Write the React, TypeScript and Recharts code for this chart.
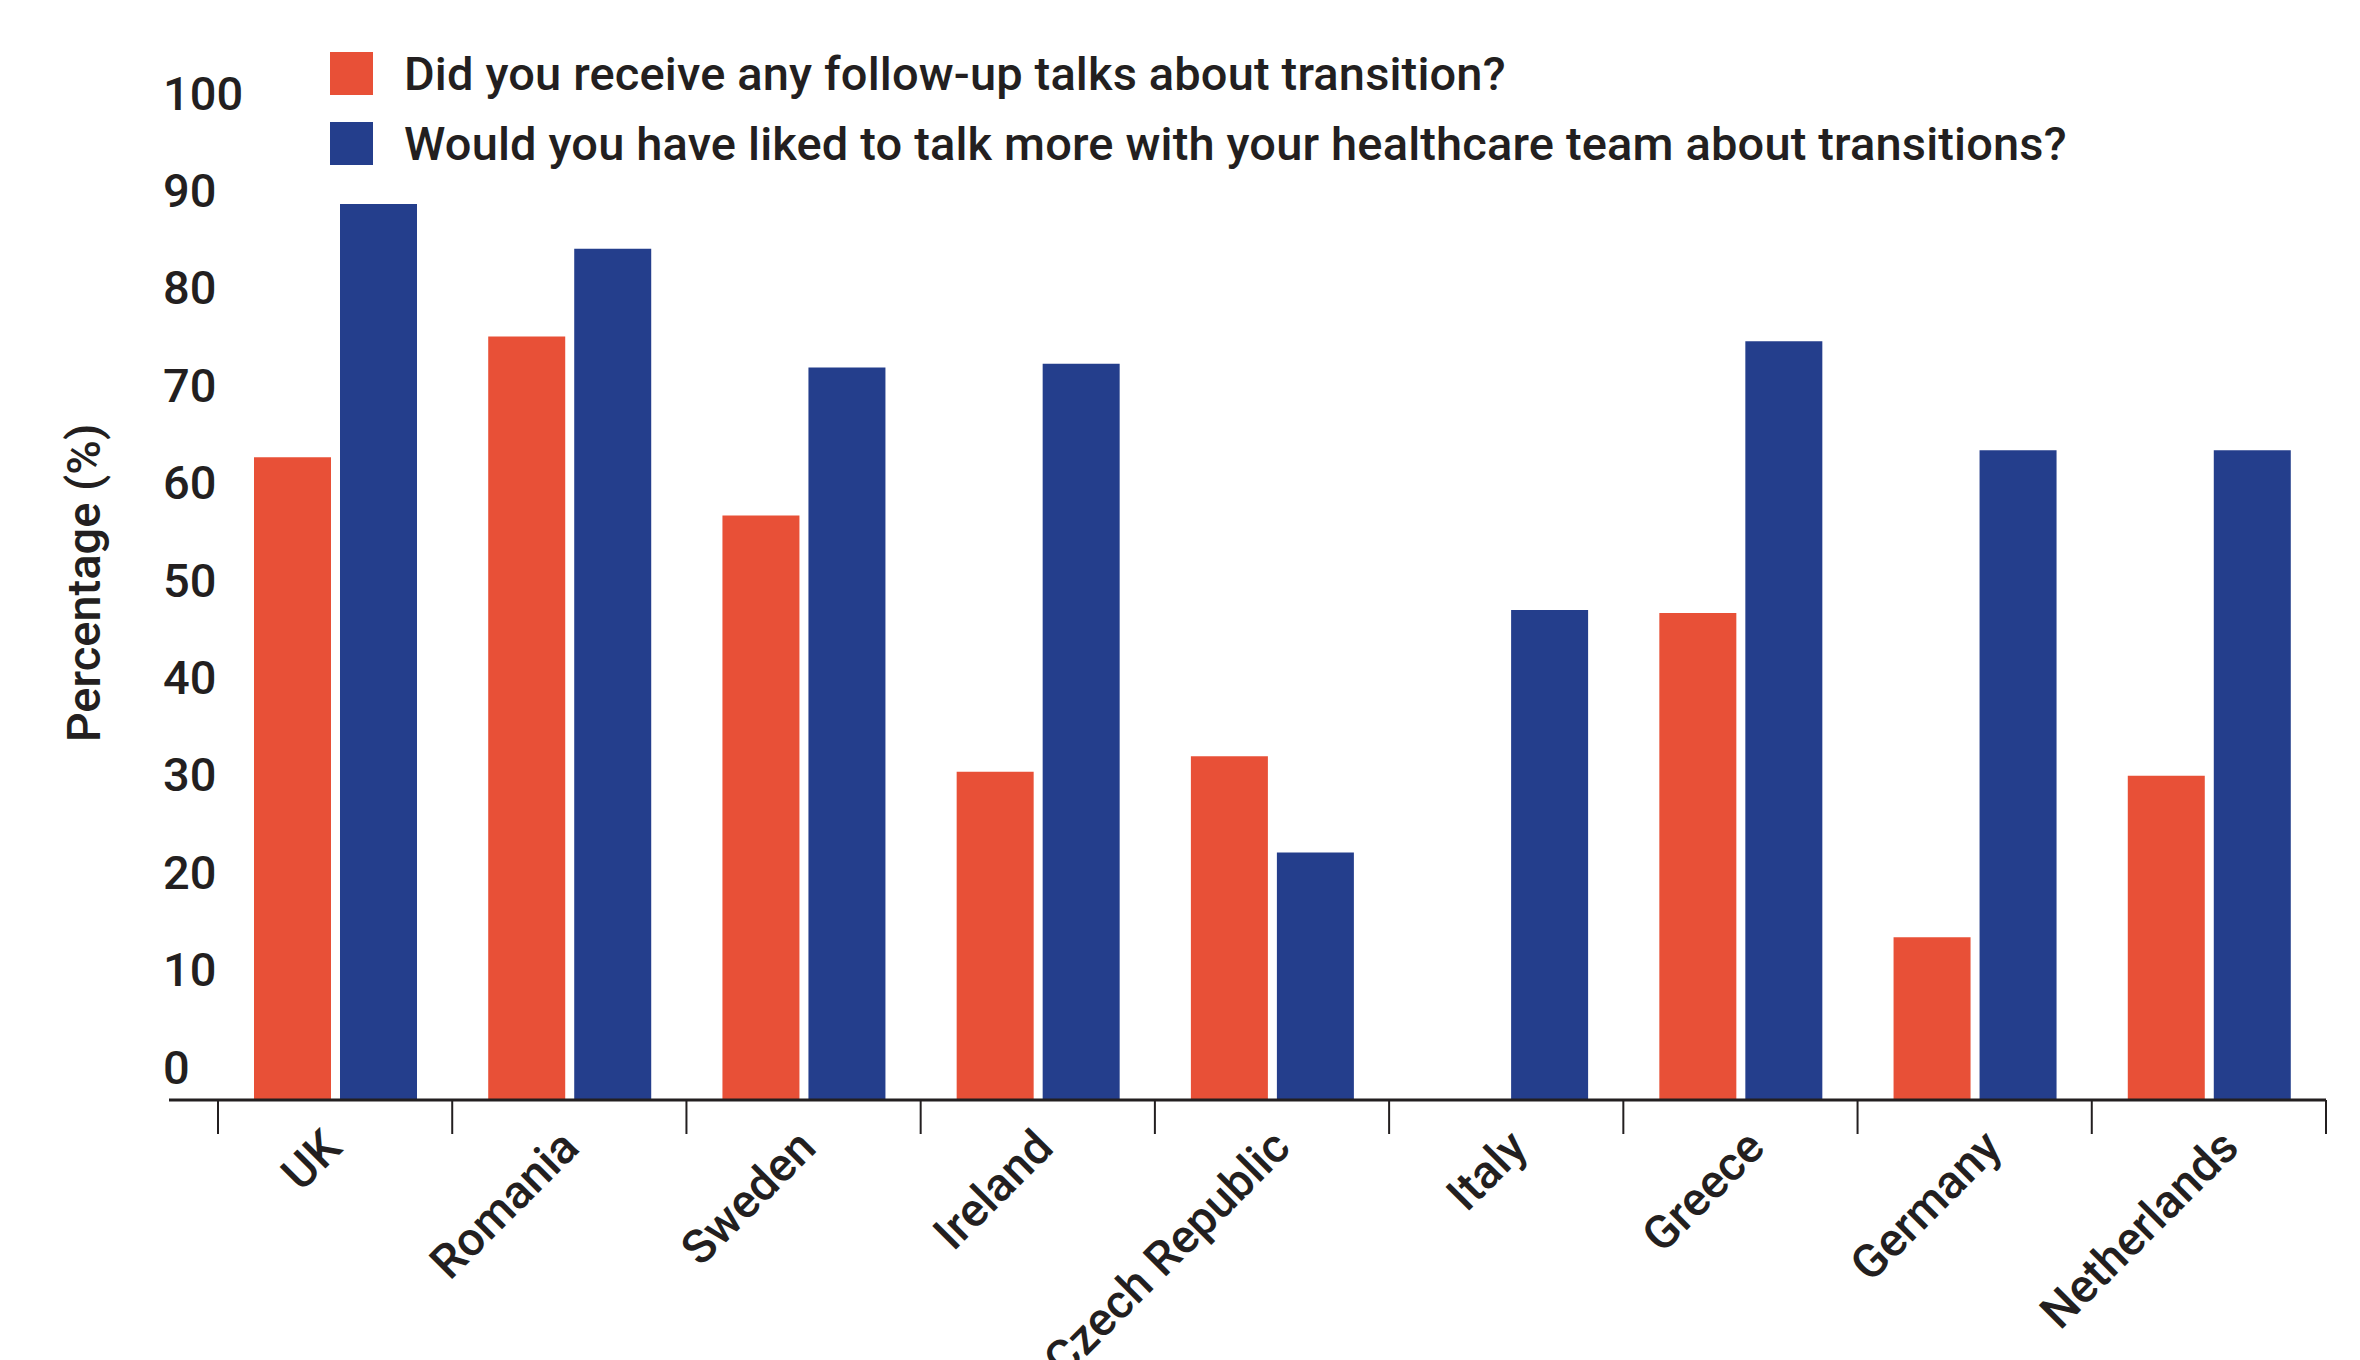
import React from 'react';
import { BarChart, Bar, XAxis, YAxis, Legend, Label } from 'recharts';

// values (percent)
const countries = ['UK', 'Romania', 'Sweden', 'Ireland', 'Czech Republic', 'Italy', 'Greece', 'Germany', 'Netherlands'];
const followUpTalks = [66.0, 78.4, 60.0, 33.7, 35.3, 0, 50.0, 16.7, 33.3];
const wantedMoreTalk = [92.0, 87.4, 75.2, 75.6, 25.4, 50.3, 77.9, 66.7, 66.7];
const yTicks = [0, 10, 20, 30, 40, 50, 60, 70, 80, 90, 100];

const seriesNames = [
    'Did you receive any follow-up talks about transition?',
    'Would you have liked to talk more with your healthcare team about transitions?',
];

const data = countries.map((name, i) => ({
    name,
    followUp: followUpTalks[i],
    wanted: wantedMoreTalk[i],
}));

const W = 2360;
const H = 1360;
const TEXT = '#231f20';
const ORANGE = '#e85037';
const BLUE = '#243e8c';
const FONT = 'Roboto, "Noto Sans", sans-serif';

const Y_AXIS_W = 169;
const MARGIN_RIGHT = 34;
const PAD_LEFT = 49;
const BAND = (W - Y_AXIS_W - MARGIN_RIGHT - PAD_LEFT) / countries.length;

const CountryTick = (props: any) => {
    const { x, y, payload, index } = props;
    const half = BAND / 2;
    const lx = x + 9 + index * 2.9;
    const ly = y + 50;
    return (
        <g>
            <line x1={x - half} y1={y} x2={x - half} y2={y + 34} stroke={TEXT} strokeWidth={2} />
            {index === countries.length - 1 && (
                <line x1={x + half} y1={y} x2={x + half} y2={y + 34} stroke={TEXT} strokeWidth={2} />
            )}
            <text
                x={lx}
                y={ly}
                textAnchor="end"
                transform={`rotate(-45, ${lx}, ${ly})`}
                fill={TEXT}
                fontSize={47}
                fontWeight={500}
                fontFamily={FONT}
            >
                {payload.value}
            </text>
        </g>
    );
};

const PercentTick = (props: any) => {
    const { y, payload } = props;
    return (
        <text x={163} y={y - 33} dominantBaseline="central" textAnchor="start" fill={TEXT} fontSize={47} fontWeight={500} fontFamily={FONT}>
            {payload.value}
        </text>
    );
};

const renderYLabel = (props: any) => {
    const vb = props.viewBox || { x: 0, y: 126, width: Y_AXIS_W, height: 974 };
    const cx = 100;
    const cy = vb.y + vb.height / 2 - 30;
    return (
        <text x={cx} y={cy} textAnchor="middle" transform={`rotate(-90, ${cx}, ${cy})`} fill={TEXT} fontSize={47} fontWeight={500} fontFamily={FONT}>
            Percentage (%)
        </text>
    );
};

const renderLegend = () => {
    const colors = [ORANGE, BLUE];
    return (
        <div style={{ display: 'flex', flexDirection: 'column', gap: 27 }}>
            {seriesNames.map((n, i) => (
                <div key={n} style={{ display: 'flex', alignItems: 'center', height: 43 }}>
                    <div style={{ width: 43, height: 43, background: colors[i], marginRight: 31 }} />
                    <span style={{ fontFamily: FONT, fontSize: 47, fontWeight: 500, lineHeight: 1, letterSpacing: 0.15, color: TEXT, whiteSpace: 'nowrap' }}>{n}</span>
                </div>
            ))}
        </div>
    );
};

export default function App() {
    return (
        <div style={{ position: 'absolute', left: 0, top: 0, width: W, height: H, background: '#fff' }}>
            <BarChart
                width={W}
                height={H}
                data={data}
                margin={{ top: 126, right: MARGIN_RIGHT, bottom: 0, left: 0 }}
                barSize={77}
                barGap={9}
            >
                <XAxis
                    dataKey="name"
                    interval={0}
                    height={H - 1100}
                    padding={{ left: PAD_LEFT, right: 0 }}
                    axisLine={{ stroke: TEXT, strokeWidth: 3 }}
                    tickLine={false}
                    tickSize={0}
                    tickMargin={0}
                    tick={<CountryTick />}
                />
                <YAxis
                    width={Y_AXIS_W}
                    domain={[0, 100]}
                    ticks={yTicks}
                    axisLine={false}
                    tickLine={false}
                    tick={<PercentTick />}
                >
                    <Label content={renderYLabel} />
                </YAxis>
                <Legend
                    layout="vertical"
                    align="center"
                    verticalAlign="middle"
                    content={renderLegend}
                    wrapperStyle={{ left: 330, top: 52, width: 1900 }}
                />
                <Bar dataKey="followUp" name={seriesNames[0]} fill={ORANGE} isAnimationActive={false} />
                <Bar dataKey="wanted" name={seriesNames[1]} fill={BLUE} isAnimationActive={false} />
            </BarChart>
        </div>
    );
}
